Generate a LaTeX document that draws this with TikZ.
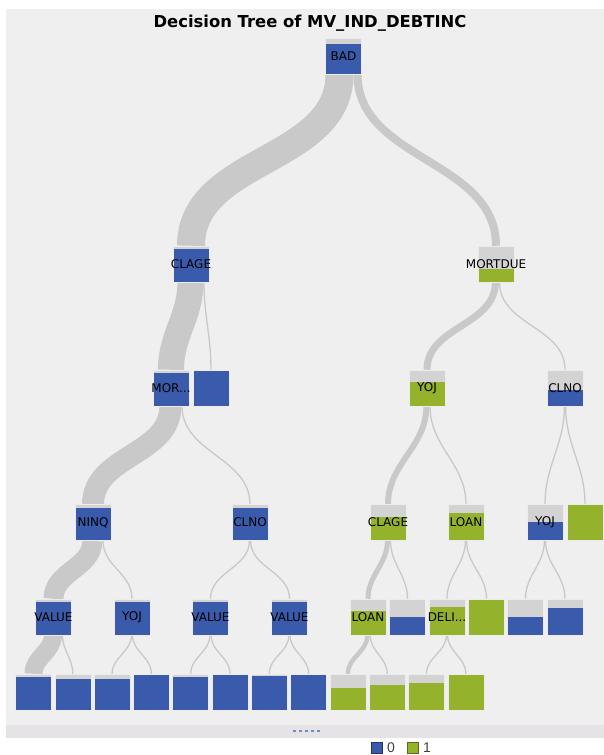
\documentclass[tikz,border=0pt]{standalone}
\usepackage{fontspec}
\usepackage{xcolor}
\usepackage{tikz}
\usetikzlibrary{positioning,backgrounds}

\newfontfamily\dejavu{DejaVu Sans}
\newfontfamily\libsans{Liberation Sans}

\definecolor{nodeblue}{HTML}{3A5BAB}
\definecolor{nodegreen}{HTML}{94B22B}
\definecolor{topgrey}{HTML}{D3D3D3}
\definecolor{bandgrey}{HTML}{C9C9C9}
\definecolor{panelgrey}{HTML}{EFEFEF}
\definecolor{bargrey}{HTML}{E6E3E6}
\definecolor{dotblue}{HTML}{6F8DBF}

% flow band: from, to, offset at parent, width
\newcommand{\flowband}[4]{\draw[band, line width=#4pt] ([xshift=#3pt]#1.south) to[out=-90, in=90] (#2.north);}

\begin{document}
\begin{tikzpicture}[x=1pt, y=-1pt,
    box/.style={rectangle, minimum width=36pt, minimum height=36pt, inner sep=0pt, fill=topgrey, draw=white!85!gray, line width=0.5pt},
    part/.style 2 args={path picture={\fill[#1] (path picture bounding box.south west) rectangle ([yshift=#2pt]path picture bounding box.south east);}},
    every label/.style={font=\dejavu\fontsize{12}{12}\selectfont, text=black, inner sep=0pt},
    band/.style={draw=bandgrey},
    legkey/.style={rectangle, minimum size=11pt, inner sep=0pt, line width=0.8pt},
    legtext/.style={font=\libsans\fontsize{14}{14}\selectfont, text=black!75, inner sep=0pt}]
    \useasboundingbox (0,0) rectangle (604,755);

    % Title
    \node[font=\dejavu\bfseries\fontsize{16.4}{18}\selectfont, anchor=base] (title) at (310,27.5) {Decision Tree of MV\_IND\_DEBTINC};

    % Nodes
    \node[box, part={nodeblue}{30}, label=center:BAD] (bad) at (343.5,56) {};

    \node[box, part={nodeblue}{33}, label=center:CLAGE] (clage) at (191,264) {};
    \node[box, part={nodegreen}{13}, label=center:MORTDUE] (mortdue) at (496,264) {};

    \node[box, part={nodeblue}{33}, label=center:MOR...] (mor) at (171,388) {};
    \node[box, part={nodeblue}{36}] (leafa) at (211,388) {};
    \node[box, part={nodegreen}{24}, label=center:YOJ] (yoj) at (427,388) {};
    \node[box, part={nodeblue}{16}, label=center:CLNO] (clno) at (565,388) {};

    \node[box, part={nodeblue}{33}, label=center:NINQ] (ninq) at (93,522.5) {};
    \node[box, part={nodeblue}{33}, label=center:CLNO] (clnol) at (250,522.5) {};
    \node[box, part={nodegreen}{24}, label=center:CLAGE] (clager) at (388,522.5) {};
    \node[box, part={nodegreen}{28}, label=center:LOAN] (loanr) at (466,522.5) {};
    \node[box, part={nodeblue}{19}, label=center:YOJ] (yojr) at (545,522.5) {};
    \node[box, part={nodegreen}{36}] (leafb) at (585,522.5) {};

    \node[box, part={nodeblue}{33}, label=center:VALUE] (value1) at (53.5,617) {};
    \node[box, part={nodeblue}{33}, label=center:YOJ] (yojl) at (132,617) {};
    \node[box, part={nodeblue}{33}, label=center:VALUE] (value2) at (210.5,617) {};
    \node[box, part={nodeblue}{33}, label=center:VALUE] (value3) at (289.5,617) {};
    \node[box, part={nodegreen}{24}, label=center:LOAN] (loanb) at (368,617) {};
    \node[box, part={nodeblue}{18}] (leafc) at (407.5,617) {};
    \node[box, part={nodegreen}{28}, label=center:DELI...] (deli) at (447,617) {};
    \node[box, part={nodegreen}{36}] (leafd) at (486.5,617) {};
    \node[box, part={nodeblue}{18}] (leafe) at (525.5,617) {};
    \node[box, part={nodeblue}{27}] (leaff) at (565,617) {};

    \foreach \i/\c/\h in {1/nodeblue/33, 2/nodeblue/31, 3/nodeblue/31, 4/nodeblue/36,
        5/nodeblue/33, 6/nodeblue/36, 7/nodeblue/34, 8/nodeblue/36,
        9/nodegreen/22, 10/nodegreen/25, 11/nodegreen/27, 12/nodegreen/36}
        \node[box, part={\c}{\h}] (leaf\i) at ({33.5+39.3*(\i-1)},692) {};

    % Panel and flow bands
    \begin{scope}[on background layer]
        \fill[panelgrey] (6,9) rectangle (604,725);
        \fill[bargrey] (6,725) rectangle (604,738);

        \flowband{bad}{clage}{-4}{28}
        \flowband{bad}{mortdue}{14}{8}
        \flowband{clage}{mor}{-0.6}{26}
        \flowband{clage}{leafa}{13}{1.3}
        \flowband{mor}{ninq}{-0.6}{22}
        \flowband{mor}{clnol}{11}{1.3}
        \flowband{ninq}{value1}{-0.6}{20}
        \flowband{ninq}{yojl}{10}{1.3}
        \flowband{clnol}{value2}{-0.6}{1.3}
        \flowband{clnol}{value3}{0.6}{1.3}
        \flowband{value1}{leaf1}{-0.6}{18}
        \flowband{value1}{leaf2}{9}{1.3}
        \flowband{yojl}{leaf3}{-0.6}{1.3}
        \flowband{yojl}{leaf4}{0.6}{1.3}
        \flowband{value2}{leaf5}{-0.6}{1.3}
        \flowband{value2}{leaf6}{0.6}{1.3}
        \flowband{value3}{leaf7}{-0.6}{1.3}
        \flowband{value3}{leaf8}{0.6}{1.3}

        \flowband{mortdue}{yoj}{-0.6}{7}
        \flowband{mortdue}{clno}{3.5}{1.3}
        \flowband{yoj}{clager}{-0.6}{6}
        \flowband{yoj}{loanr}{3}{1.3}
        \flowband{clno}{yojr}{-0.6}{1.3}
        \flowband{clno}{leafb}{0.6}{1.3}
        \flowband{clager}{loanb}{-0.6}{5}
        \flowband{clager}{leafc}{2.5}{1.3}
        \flowband{loanr}{deli}{-0.6}{1.3}
        \flowband{loanr}{leafd}{0.6}{1.3}
        \flowband{yojr}{leafe}{-0.6}{1.3}
        \flowband{yojr}{leaff}{0.6}{1.3}
        \flowband{loanb}{leaf9}{-0.6}{4.5}
        \flowband{loanb}{leaf10}{2.25}{1.3}
        \flowband{deli}{leaf11}{-0.6}{1.3}
        \flowband{deli}{leaf12}{0.6}{1.3}
    \end{scope}

    % Scroll handle
    \foreach \k in {0,...,4}
        \fill[dotblue] ({293+6*\k},730) rectangle +(3,2);

    % Legend
    \node[legkey, fill=nodeblue, draw=nodeblue!60!black] (key0) at (376.5,747.5) {};
    \node[legtext, right=4.5pt of key0] (lab0) {0};
    \node[legkey, fill=nodegreen, draw=nodegreen!60!black] (key1) at (412.5,747.5) {};
    \node[legtext, right=4.5pt of key1] (lab1) {1};
\end{tikzpicture}
\end{document}
